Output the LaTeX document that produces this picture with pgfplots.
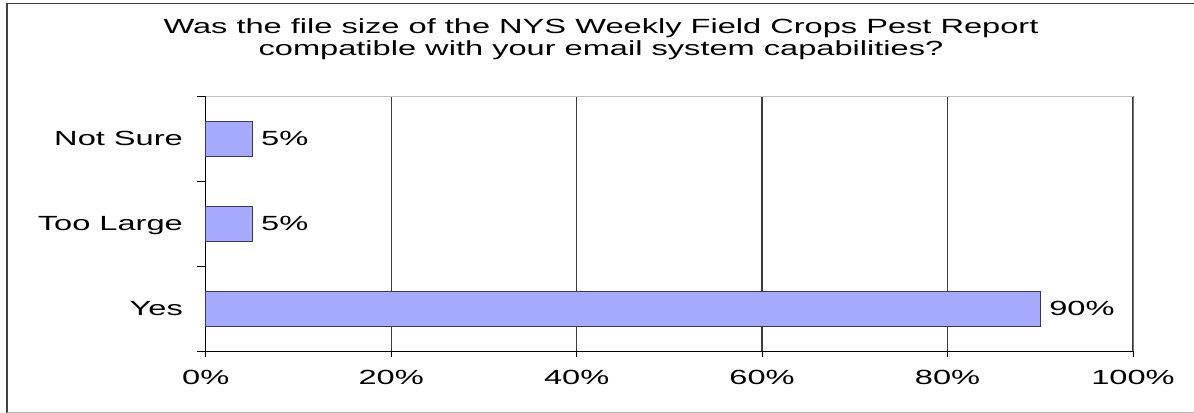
\documentclass[border=0pt]{standalone}
\usepackage{fontspec}
\setmainfont{Liberation Sans}
\usepackage{pgfplots}
\pgfplotsset{compat=1.18}

\definecolor{barfill}{RGB}{166,170,255}
\definecolor{baredge}{RGB}{55,55,100}
\definecolor{gridc}{RGB}{60,60,60}
\newcommand\lblfont{\fontsize{20.5bp}{22bp}\selectfont}

\begin{document}
\begin{tikzpicture}
% whole picture 1194 x 413 bp, origin top left
\begin{axis}[
  at={(205.7bp,-351bp)}, anchor=south west,
  width=927.3bp, height=255bp, scale only axis,
  xbar, bar width=35bp,
  xmin=0, xmax=100,
  ymin=-0.5, ymax=2.5,
  xtick={0,20,...,100},
  xticklabels={0\%,20\%,40\%,60\%,80\%,100\%},
  ytick={0,1,2},
  yticklabels={Yes,Too Large,Not Sure},
  axis x line*=bottom, axis y line*=left,
  axis line style={black, line width=1bp, -},
  tick align=outside,
  xtick style={black, line width=1bp, /pgfplots/major tick length=6bp},
  ytick style={/pgfplots/major tick length=0pt},
  extra y ticks={-0.5,0.5,1.5,2.5},
  extra y tick labels=\empty,
  extra y tick style={
    ytick style={black, line width=1bp, /pgfplots/major tick length=9bp},
  },
  xmajorgrids=true,
  grid style={gridc, line width=1.2bp},
  xticklabel style={font=\lblfont, yshift=-11.5bp, xscale=1.59},
  yticklabel style={font=\lblfont, anchor=base east, xshift=-13bp, yshift=-7.3bp, xscale=1.59},
  nodes near coords={\pgfmathprintnumber{\pgfplotspointmeta}\%},
  nodes near coords align={horizontal},
  every node near coord/.append style={font=\lblfont, anchor=base west,
    xshift=3bp, yshift=-7.3bp, xscale=1.59,
    /pgf/number format/assume math mode=true},
  clip=false,
]
\addplot[fill=barfill, draw=baredge, line width=1bp] coordinates {
  (90,0) (5,1) (5,2)
};
\draw[black!25, line width=1bp] (rel axis cs:0,1) -- (rel axis cs:1,1);
\draw[black!55, line width=1bp] (rel axis cs:1,0) -- (rel axis cs:1,1);
\end{axis}

\node[font=\lblfont, anchor=base, xscale=1.59] at (601bp,-33.3bp)
  {Was the file size of the NYS Weekly Field Crops Pest Report};
\node[font=\lblfont, anchor=base, xscale=1.59] at (601bp,-55bp)
  {compatible with your email system capabilities?};

\draw[black!75, line width=1.5bp] (7bp,-413bp) -- (7bp,-3.3bp) -- (1194bp,-3.3bp);
\draw[black!30, line width=1bp] (7bp,-412bp) -- (1194bp,-412bp);

\pgfresetboundingbox
\useasboundingbox (0,0) rectangle (1194bp,-413bp);
\end{tikzpicture}
\end{document}
